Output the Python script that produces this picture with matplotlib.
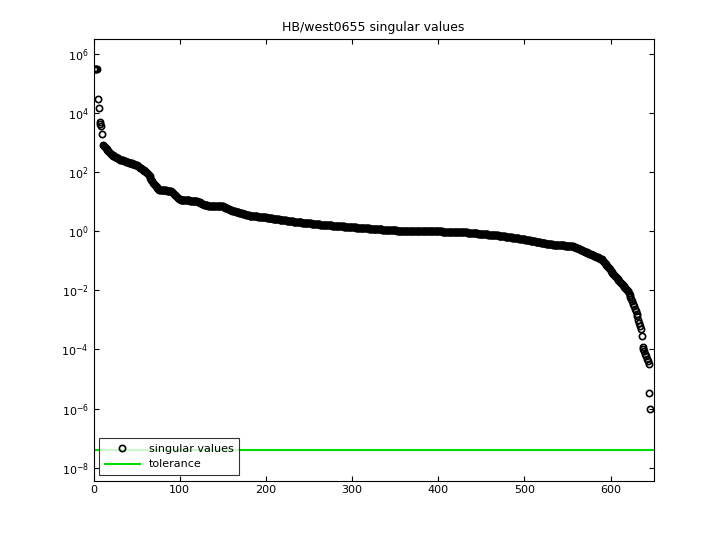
import numpy as np
import matplotlib
matplotlib.use("Agg")
import matplotlib.pyplot as plt

n = 646
knot_idx = [1, 4, 5, 6, 7, 8, 9, 10, 11, 13, 20, 30, 40, 50, 60, 65, 70, 75, 90, 100, 120, 130, 150, 160,
            180, 200, 230, 260, 300, 350, 400, 430, 470, 500, 530, 556, 575, 590, 608, 620, 625, 631,
            635, 636, 637, 643, 644, 645, 646]
knot_log = [5.49, 5.49, 4.47, 4.17, 3.7, 3.63, 3.56, 3.29, 2.92, 2.85, 2.61, 2.44, 2.34, 2.24, 2.03, 1.86,
            1.59, 1.42, 1.36, 1.08, 1.02, 0.88, 0.85, 0.71, 0.54, 0.47, 0.34, 0.24, 0.14, 0.03, 0.0, -0.03,
            -0.14, -0.27, -0.44, -0.5, -0.75, -0.95, -1.63, -2.03, -2.37, -2.88, -3.32, -3.56, -3.9, -4.4,
            -4.5, -5.46, -6.03]
tolerance = 3.8e-8

idx = np.arange(1, n + 1)
sv = 10 ** np.interp(idx, knot_idx, knot_log)

fig = plt.figure(figsize=(7.2, 5.4), dpi=100)
ax = fig.add_axes([0.13, 0.11, 0.778, 0.817])
ax.semilogy(idx, sv, 'o', mfc='none', mec='k', ms=4.5, mew=1.2, label='singular values')
ax.axhline(tolerance, color='#00dd00', lw=1.5, label='tolerance')
ax.set_xlim(0, 650)
ax.set_ylim(10**-8.44, 10**6.5)
ax.set_yticks([10.0**k for k in range(-8, 7, 2)])
ax.minorticks_off()
ax.tick_params(direction='in', top=True, right=True, labelsize=8)
ax.set_title('HB/west0655 singular values', fontsize=9)
leg = ax.legend(loc='lower left', fontsize=8, fancybox=False, edgecolor='k', borderaxespad=0.5,
                handlelength=3.2, borderpad=0.5, labelspacing=0.5)
leg.get_frame().set_linewidth(0.8)
fig.savefig('out.png')
